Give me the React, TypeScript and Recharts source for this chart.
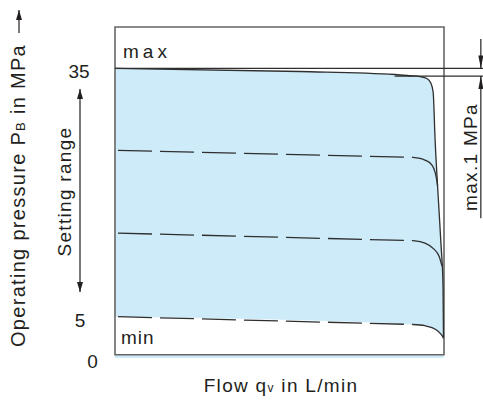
import React from "react";
import {
  Area,
  ComposedChart,
  Label,
  Line,
  ReferenceArea,
  ReferenceLine,
  XAxis,
  YAxis,
} from "recharts";

const FONT = '"Liberation Sans", Arial, Helvetica, sans-serif';
const INK = "#2f2f2f";
const TEXT = "#231f20";
const BLUE = "#cdebf8";

// flow in % of nominal, pressure in MPa
const MAX_CURVE = [
  { x: 0, y: 35 },
  { x: 56.2, y: 34.62 },
  { x: 85.1, y: 34.26 },
  { x: 89.7, y: 34.11 },
  { x: 92.7, y: 34.0 },
  { x: 94.8, y: 33.77 },
  { x: 96.0, y: 33.23 },
  { x: 96.7, y: 32.14 },
  { x: 97.3, y: 26.33 },
  { x: 98.3, y: 19.08 },
  { x: 99.1, y: 13.64 },
  { x: 99.7, y: 8.8 },
  { x: 99.85, y: 2.4 },
];

const P25_FLAT = [
  { x: 0, y: 25.1 },
  { x: 90.6, y: 24.24 },
];
const P25_BEND = [
  { x: 90.6, y: 24.24 },
  { x: 94.2, y: 23.92 },
  { x: 96.35, y: 23.31 },
  { x: 97.26, y: 22.5 },
  { x: 97.8, y: 21.5 },
  { x: 98.05, y: 20.8 },
];

const P15_FLAT = [
  { x: 0, y: 15.1 },
  { x: 90.6, y: 14.18 },
];
const P15_BEND = [
  { x: 90.6, y: 14.18 },
  { x: 94.2, y: 13.88 },
  { x: 96.96, y: 13.16 },
  { x: 98.5, y: 12.3 },
  { x: 99.4, y: 11.1 },
];

const MIN_FLAT = [
  { x: 0, y: 5.0 },
  { x: 90.6, y: 4.05 },
];
const MIN_BEND = [
  { x: 90.6, y: 4.05 },
  { x: 94.2, y: 3.9 },
  { x: 96.35, y: 3.66 },
  { x: 98.2, y: 3.24 },
  { x: 99.2, y: 2.82 },
  { x: 99.85, y: 2.4 },
];
const MIN_AREA = [MIN_FLAT[0], ...MIN_BEND];

const Y_TICKS = [0, 5, 35];
const TICK_CENTER = { 0: 92.5, 5: 80, 35: 79 };

function Arrow({ x1, y1, x2, y2, both = false, head = 10, half = 3 }) {
  const tip = (tx, ty, fx, fy) => {
    const len = Math.hypot(tx - fx, ty - fy) || 1;
    const ux = (tx - fx) / len;
    const uy = (ty - fy) / len;
    const bx = tx - ux * head;
    const by = ty - uy * head;
    return `${tx},${ty} ${bx - uy * half},${by + ux * half} ${bx + uy * half},${by - ux * half}`;
  };
  return (
    <g>
      <line x1={x1} y1={y1} x2={x2} y2={y2} stroke={TEXT} strokeWidth={1.2} />
      <polygon points={tip(x2, y2, x1, y1)} fill={TEXT} />
      {both && <polygon points={tip(x1, y1, x2, y2)} fill={TEXT} />}
    </g>
  );
}

function YTick({ y, payload }) {
  return (
    <text
      x={TICK_CENTER[payload.value]}
      y={y}
      dy={10}
      textAnchor="middle"
      fontFamily={FONT}
      fontSize={19}
      fill={TEXT}
    >
      {payload.value}
    </text>
  );
}

function PressureLabel() {
  return (
    <g fontFamily={FONT} fill={TEXT}>
      <text
        x={25}
        y={195.5}
        transform="rotate(-90 25 195.5)"
        textAnchor="middle"
        fontSize={20}
        letterSpacing={1.3}
      >
        Operating pressure P<tspan fontSize={13}>B</tspan> in MPa
      </text>
      <Arrow x1={19} y1={33} x2={19} y2={10} />
      <text
        x={71}
        y={191.5}
        transform="rotate(-90 71 191.5)"
        textAnchor="middle"
        fontSize={19}
        letterSpacing={1.3}
      >
        Setting range
      </text>
      <Arrow x1={80} y1={292} x2={80} y2={89} both />
    </g>
  );
}

function FlowLabel({ viewBox }) {
  const cx = viewBox.x + viewBox.width / 2 + 1.5;
  return (
    <text
      x={cx}
      y={391.5}
      textAnchor="middle"
      fontFamily={FONT}
      fontSize={19}
      letterSpacing={1.3}
      fill={TEXT}
    >
      Flow q<tspan fontSize={12}>v</tspan> in L/min
    </text>
  );
}

const arrowShape = (p) => <Arrow x1={p.x1} y1={p.y1} x2={p.x2} y2={p.y2} head={13} half={2.5} />;

export default function App() {
  return (
    <div style={{ position: "absolute", left: 0, top: 0, width: 483, height: 400, background: "#fff" }}>
      <ComposedChart width={483} height={400} margin={{ top: 27, right: 39, bottom: 0, left: 0 }}>
        <XAxis
          type="number"
          dataKey="x"
          domain={[0, 100]}
          allowDataOverflow
          height={42}
          tick={false}
          axisLine={false}
          tickLine={false}
        >
          <Label content={FlowLabel} />
        </XAxis>
        <YAxis
          type="number"
          domain={[0, 40]}
          allowDataOverflow
          ticks={Y_TICKS}
          interval={0}
          width={115}
          axisLine={false}
          tickLine={false}
          tick={YTick}
        >
          <Label content={PressureLabel} />
        </YAxis>

        <Area
          type="monotone"
          data={MAX_CURVE}
          dataKey="y"
          fill={BLUE}
          fillOpacity={1}
          stroke="none"
          isAnimationActive={false}
        />
        <Area
          type="monotone"
          data={MIN_AREA}
          dataKey="y"
          fill="#fff"
          fillOpacity={1}
          stroke="none"
          baseValue={0.4}
          isAnimationActive={false}
        />

        <ReferenceArea
          x1={0}
          x2={100}
          y1={0.4}
          y2={40}
          fill="none"
          stroke="#666"
          strokeWidth={1.6}
          ifOverflow="visible"
        />
        <ReferenceArea x1={0} x2={100} y1={35} y2={40} fill="none" stroke="none" ifOverflow="visible">
          <Label
            content={({ viewBox }) => (
              <text
                x={viewBox.x + 8}
                y={viewBox.y + viewBox.height - 10.5}
                fontFamily={FONT}
                fontSize={19}
                letterSpacing={4}
                fill={TEXT}
              >
                max
              </text>
            )}
          />
        </ReferenceArea>
        <ReferenceArea x1={0} x2={100} y1={0.4} y2={5} fill="none" stroke="none" ifOverflow="visible">
          <Label
            content={({ viewBox }) => (
              <text
                x={viewBox.x + 6}
                y={viewBox.y + 27.5}
                fontFamily={FONT}
                fontSize={19}
                letterSpacing={1}
                fill={TEXT}
              >
                min
              </text>
            )}
          />
        </ReferenceArea>

        <Line type="monotone" data={MAX_CURVE} dataKey="y" stroke={INK} strokeWidth={1.3} dot={false} isAnimationActive={false} />
        <Line type="linear" data={P25_FLAT} dataKey="y" stroke={INK} strokeWidth={1.3} strokeDasharray="34 8" strokeDashoffset={39} dot={false} isAnimationActive={false} />
        <Line type="monotone" data={P25_BEND} dataKey="y" stroke={INK} strokeWidth={1.3} dot={false} isAnimationActive={false} />
        <Line type="linear" data={P15_FLAT} dataKey="y" stroke={INK} strokeWidth={1.3} strokeDasharray="34 8" strokeDashoffset={39} dot={false} isAnimationActive={false} />
        <Line type="monotone" data={P15_BEND} dataKey="y" stroke={INK} strokeWidth={1.3} dot={false} isAnimationActive={false} />
        <Line type="linear" data={MIN_FLAT} dataKey="y" stroke={INK} strokeWidth={1.3} strokeDasharray="34 8" strokeDashoffset={39} dot={false} isAnimationActive={false} />
        <Line type="monotone" data={MIN_BEND} dataKey="y" stroke={INK} strokeWidth={1.3} dot={false} isAnimationActive={false} />

        <ReferenceLine segment={[{ x: 0, y: 35 }, { x: 112, y: 35 }]} stroke={INK} strokeWidth={1.2} ifOverflow="visible" />
        <ReferenceLine segment={[{ x: 85, y: 34.07 }, { x: 112, y: 34.07 }]} stroke={INK} strokeWidth={1.2} ifOverflow="visible" />
        <ReferenceLine segment={[{ x: 111.2, y: 38.55 }, { x: 111.2, y: 35 }]} ifOverflow="visible" shape={arrowShape} />
        <ReferenceLine segment={[{ x: 111.2, y: 16.9 }, { x: 111.2, y: 34.07 }]} ifOverflow="visible" shape={arrowShape}>
          <Label
            content={() => (
              <text
                x={477}
                y={157}
                transform="rotate(-90 477 157)"
                textAnchor="middle"
                fontFamily={FONT}
                fontSize={19}
                letterSpacing={1.3}
                fill={TEXT}
              >
                max.1 MPa
              </text>
            )}
          />
        </ReferenceLine>
      </ComposedChart>
    </div>
  );
}
